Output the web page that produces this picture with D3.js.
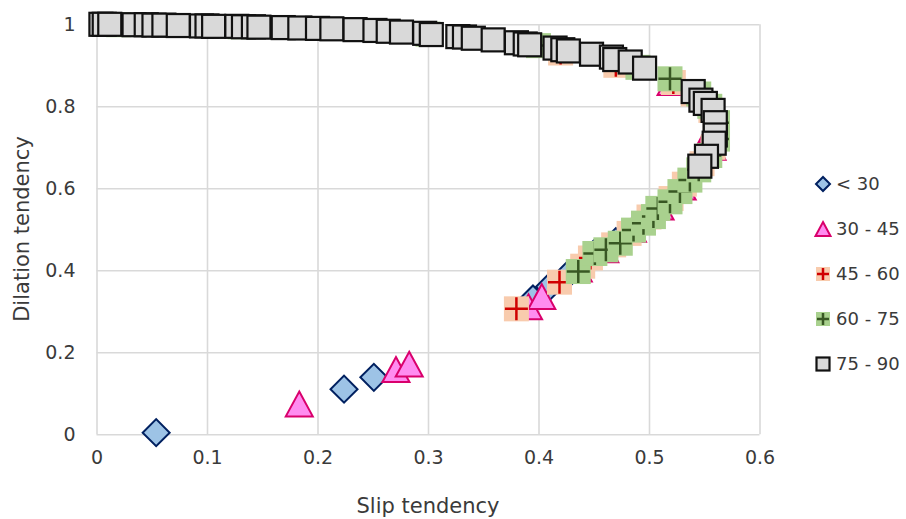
<!DOCTYPE html>
<html>
<head>
<meta charset="utf-8">
<script src="https://cdn.jsdelivr.net/npm/d3@7"></script>
<style>
  body { margin: 0; background: #fff; }
  text { font-family: "DejaVu Sans", sans-serif; fill: #3a3a3a; }
</style>
</head>
<body>
<div id="chart"></div>
<script>
var width = 906,
    height = 519;

// series: [slip tendency, dilation tendency]
var seriesNames = ["< 30", "30 - 45", "45 - 60", "60 - 75", "75 - 90"];

var lt30 = [[0.054, 0.004], [0.224, 0.11], [0.251, 0.139], [0.395, 0.33], [0.41, 0.36],
  [0.425, 0.385], [0.44, 0.41], [0.45, 0.44], [0.47, 0.47]];

var d30to45 = [[0.1835, 0.074], [0.271, 0.158], [0.283, 0.171], [0.391, 0.311], [0.403, 0.336],
  [0.436, 0.403], [0.46, 0.45], [0.485, 0.5], [0.51, 0.554], [0.53, 0.603], [0.557, 0.7],
  [0.557, 0.742], [0.52, 0.858]];

var d45to60 = [[0.38, 0.306], [0.419, 0.371], [0.44, 0.41], [0.447, 0.43], [0.468, 0.462],
  [0.482, 0.49], [0.5, 0.53], [0.52, 0.575], [0.532, 0.61], [0.548, 0.66], [0.558, 0.7],
  [0.56, 0.74], [0.556, 0.79], [0.54, 0.83], [0.522, 0.858], [0.47, 0.9], [0.42, 0.93]];

var d60to75 = [[0.436, 0.397], [0.451, 0.441], [0.461, 0.45], [0.474, 0.466], [0.486, 0.498],
  [0.495, 0.515], [0.504, 0.531], [0.508, 0.551], [0.519, 0.567], [0.528, 0.592], [0.537, 0.62],
  [0.545, 0.645], [0.555, 0.68], [0.562, 0.72], [0.562, 0.76], [0.555, 0.8], [0.545, 0.83],
  [0.519, 0.867], [0.49, 0.895], [0.4, 0.948], [0.3, 0.976], [0.13, 0.994], [0.02, 0.999]];

var d75to90 = [[0.004, 1.0], [0.007, 1.0], [0.012, 1.0], [0.034, 0.999], [0.045, 0.999],
  [0.052, 0.998], [0.061, 0.998], [0.074, 0.997], [0.095, 0.996], [0.1, 0.996], [0.106, 0.995],
  [0.127, 0.995], [0.133, 0.994], [0.142, 0.994], [0.147, 0.993], [0.169, 0.992], [0.184, 0.991],
  [0.2, 0.99], [0.213, 0.989], [0.234, 0.987], [0.252, 0.985], [0.264, 0.983], [0.276, 0.981],
  [0.297, 0.978], [0.303, 0.975], [0.327, 0.97], [0.333, 0.969], [0.341, 0.966], [0.359, 0.962],
  [0.38, 0.955], [0.388, 0.952], [0.392, 0.95], [0.415, 0.942], [0.422, 0.938], [0.427, 0.935],
  [0.448, 0.927], [0.466, 0.92], [0.469, 0.914], [0.483, 0.908], [0.496, 0.893], [0.54, 0.836],
  [0.547, 0.815], [0.551, 0.807], [0.558, 0.79], [0.56, 0.76], [0.56, 0.73], [0.559, 0.71],
  [0.552, 0.678], [0.546, 0.654]];

var xTicks = [0, 0.1, 0.2, 0.3, 0.4, 0.5, 0.6];
var yTicks = [0, 0.2, 0.4, 0.6, 0.8, 1];

var x = d3.scaleLinear().domain([0, 0.6]).range([96.5, 759.5]);
var y = d3.scaleLinear().domain([0, 1]).range([434.3, 24.3]);

var svg = d3.select("#chart").append("svg")
    .attr("width", width)
    .attr("height", height);

// gridlines + tick labels
var gx = svg.append("g")
    .attr("transform", "translate(0," + y(0) + ")")
    .call(d3.axisBottom(x).tickValues(xTicks).tickSize(-(y(0) - y(1))).tickPadding(16)
      .tickFormat(function(d) { return d === 0 ? "0" : d3.format(".1f")(d); }));
var gy = svg.append("g")
    .attr("transform", "translate(" + x(0) + ",0)")
    .call(d3.axisLeft(y).tickValues(yTicks).tickSize(-(x(0.6) - x(0))).tickPadding(21)
      .tickFormat(function(d) { return d === 0 || d === 1 ? String(d) : d3.format(".1f")(d); }));
[gx, gy].forEach(function(g) {
  g.select(".domain").remove();
  g.selectAll(".tick line").attr("stroke", "#d9d9d9").attr("stroke-width", 1.6);
  g.selectAll(".tick text").attr("font-size", 19).attr("fill", "#3a3a3a")
    .attr("font-family", "DejaVu Sans, sans-serif");
});
gy.selectAll(".tick text").attr("dy", "0.35em");

svg.append("text")
    .attr("x", (x(0) + x(0.6)) / 2)
    .attr("y", 513)
    .attr("text-anchor", "middle")
    .attr("font-size", 21)
    .text("Slip tendency");
svg.append("text")
    .attr("transform", "translate(29," + 229 + ")rotate(-90)")
    .attr("text-anchor", "middle")
    .attr("font-size", 21)
    .text("Dilation tendency");

// marker drawers
function diamond(g, s) {
  g.append("path")
    .attr("d", d3.symbol(d3.symbolSquare, s * s / 2)())
    .attr("transform", "rotate(45)")
    .attr("fill", "#9dc3e6").attr("stroke", "#002060").attr("stroke-width", 2);
}
function triangle(g, s) {
  var h = s * 0.92;
  g.append("path")
    .attr("d", "M0," + (-h / 2) + "L" + (s / 2) + "," + (h / 2) + "L" + (-s / 2) + "," + (h / 2) + "Z")
    .attr("fill", "#ff8cf0").attr("stroke", "#d9006c").attr("stroke-width", 2)
    .attr("stroke-linejoin", "miter");
}
function plus(fill, line) {
  return function(g, s) {
    g.append("rect")
      .attr("x", -s / 2).attr("y", -s / 2).attr("width", s).attr("height", s)
      .attr("fill", fill);
    g.append("path")
      .attr("d", "M" + (-s / 2 + 1) + ",0H" + (s / 2 - 1) + "M0," + (-s / 2 + 1) + "V" + (s / 2 - 1))
      .attr("stroke", line).attr("stroke-width", 2.5).attr("fill", "none");
  };
}
function square(g, s) {
  g.append("rect")
    .attr("x", -s / 2).attr("y", -s / 2).attr("width", s).attr("height", s)
    .attr("fill", "#d9d9d9").attr("stroke", "#111").attr("stroke-width", 2.2);
}

var series = [
  { name: seriesNames[0], data: lt30, draw: diamond, size: 27, legendSize: 14 },
  { name: seriesNames[1], data: d30to45, draw: triangle, size: 27, legendSize: 15 },
  { name: seriesNames[2], data: d45to60, draw: plus("#f8cbad", "#d00000"), size: 25, legendSize: 14 },
  { name: seriesNames[3], data: d60to75, draw: plus("#a9d18e", "#385723"), size: 25, legendSize: 14 },
  { name: seriesNames[4], data: d75to90, draw: square, size: 23, legendSize: 13 }
];

series.forEach(function(s) {
  svg.append("g").selectAll("g")
      .data(s.data)
    .enter().append("g")
      .attr("transform", function(d) { return "translate(" + x(d[0]) + "," + y(d[1]) + ")"; })
      .each(function() { s.draw(d3.select(this), s.size); });
});

// legend
var legendY = d3.scalePoint().domain(seriesNames).range([184, 364]);
var legend = svg.append("g");
series.forEach(function(s) {
  var row = legend.append("g")
      .attr("transform", "translate(823," + legendY(s.name) + ")");
  s.draw(row, s.legendSize);
  row.append("text")
      .attr("x", 13)
      .attr("dy", "0.35em")
      .attr("font-size", 18)
      .text(s.name);
});
</script>
</body>
</html>
